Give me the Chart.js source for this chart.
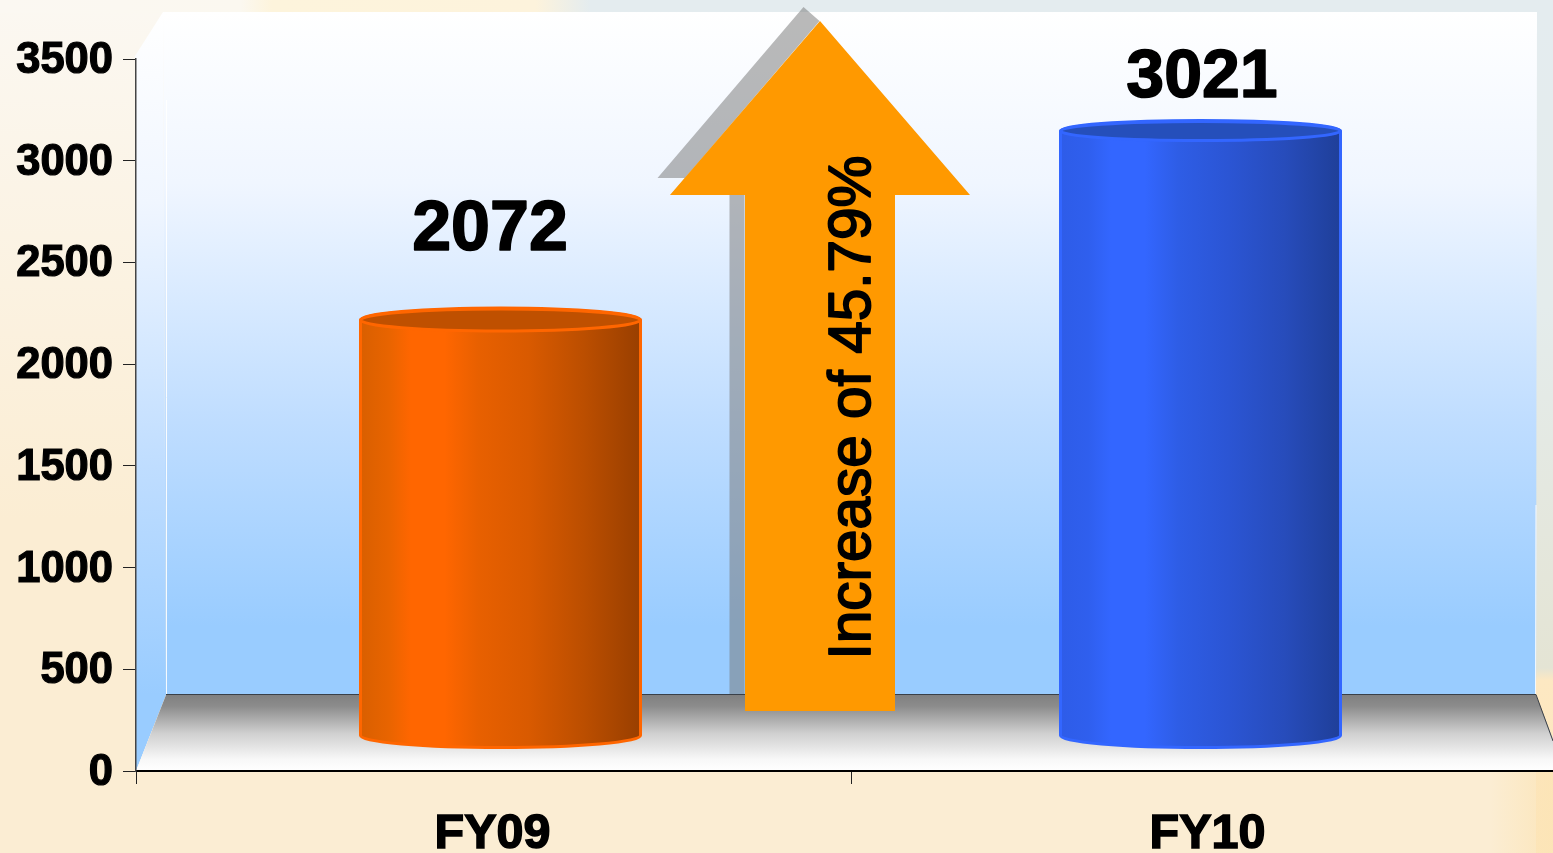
<!DOCTYPE html>
<html><head><meta charset="utf-8">
<style>html,body{margin:0;padding:0;width:1553px;height:853px;overflow:hidden;background:#FBEDD3}canvas{display:block}</style>
<script src="https://cdn.jsdelivr.net/npm/chart.js@4"></script></head>
<body><div style="width:1553px;height:853px;overflow:hidden"><canvas id="c" width="1600" height="853"></canvas></div>
<script>
const categories = ["FY09", "FY10"];
const values = [2072, 3021];
const yTicks = [0, 500, 1000, 1500, 2000, 2500, 3000, 3500];
const arrowLabel = "Increase of 45.79%";
const FONT = '"Liberation Sans", Arial, sans-serif';

const looks = [
  {dx:7, lift:29.5, ry:12, labelX:490, labelY:231, labelSize:70, stops:[[0,'#D95F00'],[.1,'#E86400'],[.18,'#FF6600'],[.3,'#FF6600'],[.42,'#E86000'],[.6,'#D95A00'],[.8,'#BB4E00'],[1,'#993F00']], top:'#BF5000', edge:'#FF6600'},
  {dx:-8, lift:25.5, ry:10.5, labelX:1202, labelY:78, labelSize:68, stops:[[0,'#2E5CE8'],[.1,'#2F5FEE'],[.18,'#3366FF'],[.3,'#3366FF'],[.42,'#2E5DE6'],[.6,'#2B55D4'],[.8,'#274CBB'],[1,'#1F3F99']], top:'#254FBB', edge:'#3366FF'}
];

const scenery = {
  id:'scenery',
  beforeDraw(chart){
    const c = chart.ctx, a = chart.chartArea;
    const floorY = 695, wallL = 166, wallR = 1537, wallT = 12;
    c.save();
    c.fillStyle = '#FBEDD3'; c.fillRect(0,0,1600,853);
    let g = c.createLinearGradient(0,0,0,520);
    g.addColorStop(0,'#FBF8F2'); g.addColorStop(1,'#FBEDD3');
    c.fillStyle = g; c.fillRect(0,0,170,853);
    g = c.createLinearGradient(0,0,1553,0);
    g.addColorStop(0,'#FBF8F2'); g.addColorStop(.155,'#FBF8F0'); g.addColorStop(.175,'#FDF4DC'); g.addColorStop(.345,'#FDF3DC'); g.addColorStop(.38,'#E4ECEF'); g.addColorStop(1,'#E4ECEF');
    c.fillStyle = g; c.fillRect(0,0,1553,13);
    g = c.createLinearGradient(0,12,0,853);
    g.addColorStop(0,'#E4ECEF'); g.addColorStop(.35,'#E4ECEC'); g.addColorStop(.78,'#E4E4D4'); g.addColorStop(.795,'#FDE8C2'); g.addColorStop(1,'#FDE6BC');
    c.fillStyle = g; c.fillRect(1536,12,17,841);
    g = c.createLinearGradient(1490,0,1553,0);
    g.addColorStop(0,'rgba(252,228,181,0)'); g.addColorStop(1,'rgba(252,228,181,.8)');
    c.fillStyle = g; c.fillRect(1490,772,63,81);
    // back wall and side wall
    g = c.createLinearGradient(0,wallT,0,floorY);
    g.addColorStop(0,'#FFFFFF'); g.addColorStop(.25,'#F0F6FF'); g.addColorStop(.6,'#BFDDFF'); g.addColorStop(.9,'#99CCFF'); g.addColorStop(1,'#99CCFF');
    c.fillStyle = g;
    c.beginPath(); c.moveTo(wallL-3,wallT); c.lineTo(wallR,wallT); c.lineTo(wallR-1,floorY); c.lineTo(wallL,floorY); c.closePath(); c.fill();
    g = c.createLinearGradient(0,wallT,0,771);
    g.addColorStop(0,'#FFFFFF'); g.addColorStop(.25,'#F0F6FF'); g.addColorStop(.6,'#BFDDFF'); g.addColorStop(.9,'#99CCFF'); g.addColorStop(1,'#99CCFF');
    c.fillStyle = g;
    c.beginPath(); c.moveTo(135,56); c.lineTo(wallL-3,wallT); c.lineTo(wallL,floorY); c.lineTo(a.left,771); c.closePath(); c.fill();
    c.strokeStyle='rgba(255,255,255,.9)'; c.lineWidth=1;
    c.beginPath(); c.moveTo(wallL+.5,100); c.lineTo(wallL+.5,floorY); c.lineTo(a.left+1,770); c.stroke();
    c.beginPath(); c.moveTo(wallR-1,505); c.lineTo(wallR-1.5,floorY); c.stroke();
    // arrow shadow (behind the floor)
    const cx = (a.left+a.right)/2 - .5;
    c.fillStyle = 'rgba(120,120,120,.52)';
    c.beginPath();
    c.moveTo(cx-47,7); c.lineTo(cx-193,178); c.lineTo(cx-121,178); c.lineTo(cx-121,695); c.lineTo(cx-106,695); c.lineTo(cx-106,195); c.lineTo(cx-180,195); c.lineTo(cx-31,21); c.closePath(); c.fill();
    // floor
    g = c.createLinearGradient(0,floorY,0,771);
    g.addColorStop(0,'#808080'); g.addColorStop(.15,'#8C8C8C'); g.addColorStop(.5,'#CFCFCF'); g.addColorStop(.85,'#F8F8F8'); g.addColorStop(1,'#FFFFFF');
    c.fillStyle = g;
    c.beginPath(); c.moveTo(wallL,floorY); c.lineTo(wallR-1,floorY); c.lineTo(1600,860); c.lineTo(1600,771); c.lineTo(a.left,771); c.closePath(); c.fill();
    c.strokeStyle='#3A4048'; c.lineWidth=1;
    c.beginPath(); c.moveTo(wallL,floorY-.5); c.lineTo(wallR-1,floorY-.5); c.lineTo(1553,741); c.stroke();
    c.restore();
  }
};

const cylinders = {
  id:'cylinders',
  afterDatasetsDraw(chart){
    const c = chart.ctx, bars = chart.getDatasetMeta(0).data;
    bars.forEach((bar,i)=>{
      const s = looks[i], r = 140, ry = 12;
      const x = bar.x + s.dx, top = bar.y - s.lift, bottom = bar.base - 35;
      const g = c.createLinearGradient(x-r,0,x+r,0);
      s.stops.forEach(p=>g.addColorStop(p[0],p[1]));
      c.save();
      c.fillStyle = g; c.strokeStyle = s.edge; c.lineWidth = 3;
      c.beginPath();
      c.moveTo(x-r,top); c.lineTo(x-r,bottom);
      c.ellipse(x,bottom,r,ry,0,Math.PI,0,true);
      c.lineTo(x+r,top);
      c.ellipse(x,top,r,s.ry,0,0,Math.PI,true);
      c.closePath(); c.fill(); c.stroke();
      c.fillStyle = s.top;
      c.beginPath(); c.ellipse(x,top,r,s.ry-1,0,0,Math.PI*2); c.fill(); c.stroke();
      c.fillStyle='#000'; c.strokeStyle='#000'; c.lineWidth=1.6; c.lineJoin='round';
      c.font = 'bold '+s.labelSize+'px '+FONT; c.textAlign='center'; c.textBaseline='middle';
      c.fillText(String(values[i]), s.labelX, s.labelY);
      c.strokeText(String(values[i]), s.labelX, s.labelY);
      c.restore();
    });
    // growth arrow
    const a = chart.chartArea, cx = (a.left+a.right)/2 - 31;
    c.save();
    c.fillStyle='#FF9900';
    c.beginPath();
    c.moveTo(cx,21); c.lineTo(cx+150,195); c.lineTo(cx+75,195); c.lineTo(cx+75,711); c.lineTo(cx-75,711); c.lineTo(cx-75,195); c.lineTo(cx-150,195); c.closePath(); c.fill();
    c.translate(cx+34,407.5); c.rotate(-Math.PI/2);
    c.fillStyle='#000'; c.strokeStyle='#000'; c.lineWidth=1.8; c.lineJoin='round';
    c.font='58.5px '+FONT; c.textAlign='center'; c.textBaseline='middle';
    c.fillText(arrowLabel,0,0); c.strokeText(arrowLabel,0,0);
    c.restore();
  }
};

new Chart(document.getElementById('c'),{
  type:'bar',
  data:{labels:categories,datasets:[{data:values,backgroundColor:'rgba(0,0,0,0)',borderWidth:0,barPercentage:1,categoryPercentage:.39}]},
  plugins:[scenery,cylinders],
  options:{
    responsive:false,animation:false,
    layout:{padding:{top:59,right:34,left:0,bottom:0}},
    plugins:{legend:{display:false},tooltip:{enabled:false}},
    scales:{
      x:{
        afterFit(s){s.height=82;},
        border:{color:'#000',width:2},
        grid:{display:true,drawOnChartArea:false,drawTicks:true,tickLength:13,color:'#222',lineWidth:1},
        ticks:{color:'#000',font:{family:FONT,size:48.5,weight:'bold'},padding:22,labelOffset:-1,maxRotation:0,autoSkip:false,textStrokeColor:'#000',textStrokeWidth:1.5}
      },
      y:{
        min:0,max:3500,
        afterFit(s){s.width=136;},
        afterBuildTicks(s){s.ticks=yTicks.map(v=>({value:v}));},
        border:{color:'#444',width:1.5},
        grid:{display:true,drawOnChartArea:false,drawTicks:true,tickLength:13,color:'#222',lineWidth:1},
        ticks:{color:'#000',font:{family:FONT,size:43.5,weight:'bold'},padding:10,labelOffset:2,textStrokeColor:'#000',textStrokeWidth:1.2,callback:v=>String(v)}
      }
    }
  }
});
</script></body></html>
